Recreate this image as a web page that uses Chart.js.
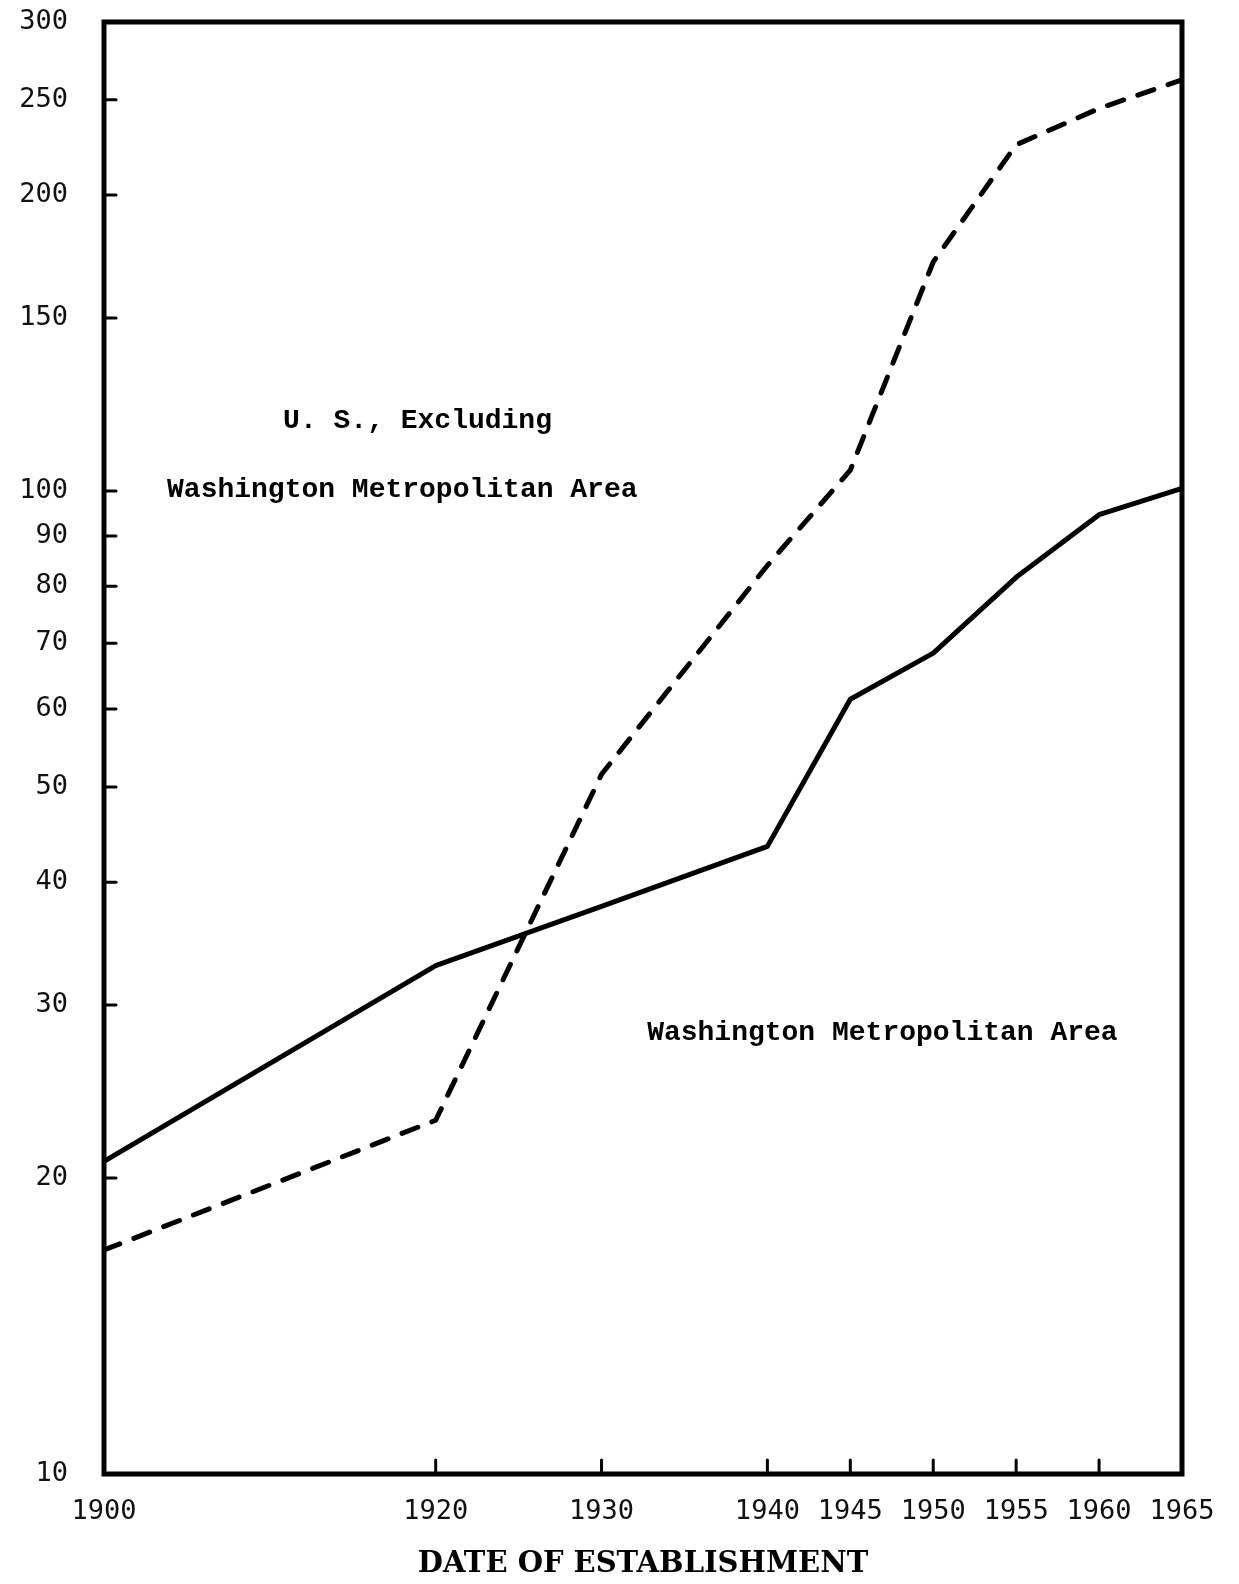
<!DOCTYPE html>
<html>
<head>
<meta charset="utf-8">
<script src="https://cdn.jsdelivr.net/npm/chart.js@4/dist/chart.umd.min.js"></script>
<style>
  html, body { margin: 0; padding: 0; background: #fff; }
  canvas { display: block; }
</style>
</head>
<body>
<canvas id="chart" width="1239" height="1584"></canvas>
<script>
// values (log scale)
const years = [1900, 1920, 1930, 1940, 1945, 1950, 1955, 1960, 1965];
const washington = [20.8, 32.9, 37.8, 43.5, 61.4, 68.4, 81.7, 94.6, 100.6];
const usExcluding = [16.9, 22.9, 51.5, 84, 105, 171, 225, 245, 262];

const xTicks = [1900, 1920, 1930, 1940, 1945, 1950, 1955, 1960, 1965];
const yTicks = [10, 20, 30, 40, 50, 60, 70, 80, 90, 100, 150, 200, 250, 300];

// typed notes on the chart, placed in data units
const notes = [
  { year: 1910.8, value: 117.7, text: "U. S., Excluding" },
  { year: 1903.8, value: 100.2, text: "Washington Metropolitan Area" },
  { year: 1932.75, value: 28.1, text: "Washington Metropolitan Area" },
];

const toPoints = (vals) => years.map((yr, i) => ({ x: yr, y: vals[i] }));

// box around the plot, inward tick marks and the typed notes
const frame = {
  id: "frame",
  afterDraw(chart) {
    const { ctx, chartArea: a, scales } = chart;
    const x = scales.x, y = scales.y;
    ctx.save();
    ctx.strokeStyle = "#000";
    ctx.lineWidth = 5;
    ctx.strokeRect(a.left, a.top, a.right - a.left, a.bottom - a.top);

    ctx.lineWidth = 3;
    ctx.lineCap = "round";
    yTicks.slice(1, -1).forEach((v) => {
      const py = y.getPixelForValue(v);
      ctx.beginPath();
      ctx.moveTo(a.left, py);
      ctx.lineTo(a.left + 12, py);
      ctx.stroke();
    });
    xTicks.slice(1, -1).forEach((v) => {
      const px = x.getPixelForValue(v);
      ctx.beginPath();
      ctx.moveTo(px, a.bottom);
      ctx.lineTo(px, a.bottom - 14);
      ctx.stroke();
    });

    ctx.fillStyle = "#000";
    ctx.font = "bold 28px 'Liberation Mono'";
    ctx.textBaseline = "middle";
    notes.forEach((n) => {
      ctx.fillText(n.text, x.getPixelForValue(n.year), y.getPixelForValue(n.value));
    });
    ctx.restore();
  },
};

const tickFont = { family: "DejaVu Sans Mono", size: 27 };

new Chart(document.getElementById("chart"), {
  type: "line",
  data: {
    datasets: [
      {
        label: "Washington Metropolitan Area",
        data: toPoints(washington),
        borderColor: "#000",
        borderWidth: 5,
        pointRadius: 0,
        tension: 0,
        borderCapStyle: "round",
        borderJoinStyle: "round",
      },
      {
        label: "U. S., Excluding Washington Metropolitan Area",
        data: toPoints(usExcluding),
        borderColor: "#000",
        borderWidth: 5,
        borderDash: [17, 15],
        pointRadius: 0,
        tension: 0,
        borderCapStyle: "round",
        borderJoinStyle: "round",
      },
    ],
  },
  options: {
    responsive: false,
    animation: false,
    devicePixelRatio: 1,
    layout: { padding: { left: 0, top: 22, right: 57, bottom: 0 } },
    plugins: { legend: { display: false }, tooltip: { enabled: false } },
    scales: {
      x: {
        type: "linear",
        min: 1900,
        max: 1965,
        afterBuildTicks: (s) => { s.ticks = xTicks.map((v) => ({ value: v })); },
        afterFit: (s) => { s.height = 110; },
        grid: { display: false, drawTicks: false },
        border: { display: false },
        ticks: {
          autoSkip: false,
          maxRotation: 0,
          padding: 22,
          color: "#111",
          font: tickFont,
          callback: (v) => String(v),
        },
        title: {
          display: true,
          text: "DATE OF ESTABLISHMENT",
          color: "#000",
          font: { family: "DejaVu Serif", size: 29, weight: "bold" },
          padding: { top: 0, bottom: 2 },
        },
      },
      y: {
        type: "logarithmic",
        min: 10,
        max: 300,
        afterBuildTicks: (s) => { s.ticks = yTicks.map((v) => ({ value: v })); },
        afterFit: (s) => {
          s.width = 104;
          s.paddingTop = 0;
          s.paddingBottom = 0;
        },
        grid: { display: false, drawTicks: false },
        border: { display: false },
        ticks: {
          autoSkip: false,
          padding: 36,
          color: "#111",
          font: tickFont,
          callback: (v) => String(v),
        },
      },
    },
  },
  plugins: [frame],
});
</script>
</body>
</html>
